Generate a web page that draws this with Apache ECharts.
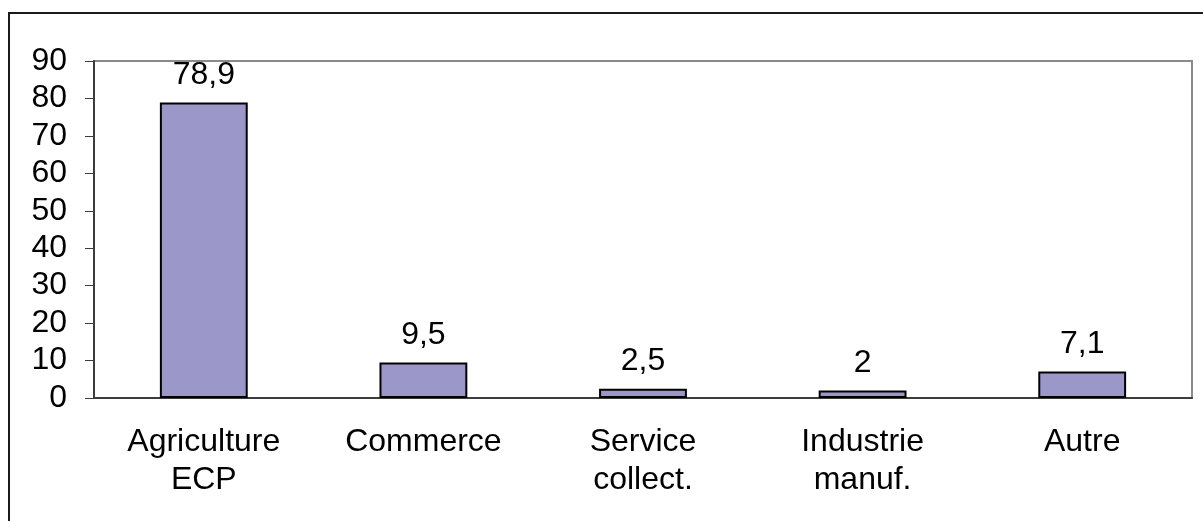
<!DOCTYPE html>
<html>
<head>
<meta charset="utf-8">
<script src="https://cdn.jsdelivr.net/npm/echarts@6/dist/echarts.min.js"></script>
<style>
    html, body { margin: 0; padding: 0; background: #fff; }
    #chart { width: 1203px; height: 521px; }
</style>
</head>
<body>
<div id="chart"></div>
<script>
// secteurs et parts (%)
const categories = ['Agriculture\nECP', 'Commerce', 'Service\ncollect.', 'Industrie\nmanuf.', 'Autre']
const values = [78.9, 9.5, 2.5, 2, 7.1]
const yMin = 0
const yMax = 90
const yStep = 10

const font = 'Liberation Sans, Arial, sans-serif'
const chart = echarts.init(document.getElementById('chart'))

chart.setOption({
    animation: false,
    textStyle: { fontFamily: font },
    graphic: [{
        type: 'rect',
        shape: { x: 9, y: 13, width: 1300, height: 600 },
        style: { fill: 'none', stroke: '#1a1a1a', lineWidth: 2 },
        z: -1
    }],
    grid: {
        left: 94,
        right: 11,
        top: 61,
        bottom: 123,
        show: true,
        borderColor: '#8a8a8a',
        borderWidth: 2
    },
    xAxis: {
        type: 'category',
        data: categories,
        axisLine: { lineStyle: { color: '#3c3c3c', width: 2 } },
        axisTick: { length: 9, lineStyle: { color: '#3c3c3c', width: 1 } },
        axisLabel: {
            color: '#000',
            fontSize: 32,
            lineHeight: 38,
            margin: 25,
            interval: 0
        }
    },
    yAxis: {
        type: 'value',
        min: yMin,
        max: yMax,
        interval: yStep,
        splitLine: { show: false },
        axisLine: { show: true, lineStyle: { color: '#3c3c3c', width: 2 } },
        axisTick: { show: true, length: 9, lineStyle: { color: '#3c3c3c', width: 1 } },
        axisLabel: { color: '#000', fontSize: 32, margin: 27 }
    },
    series: [{
        type: 'bar',
        data: values,
        barWidth: '40%',
        itemStyle: {
            color: '#9c97c9',
            borderColor: '#000',
            borderWidth: 2
        },
        label: {
            show: true,
            position: 'top',
            distance: 11,
            color: '#000',
            fontSize: 32,
            formatter: p => String(p.value).replace('.', ',')
        }
    }]
})
</script>
</body>
</html>
